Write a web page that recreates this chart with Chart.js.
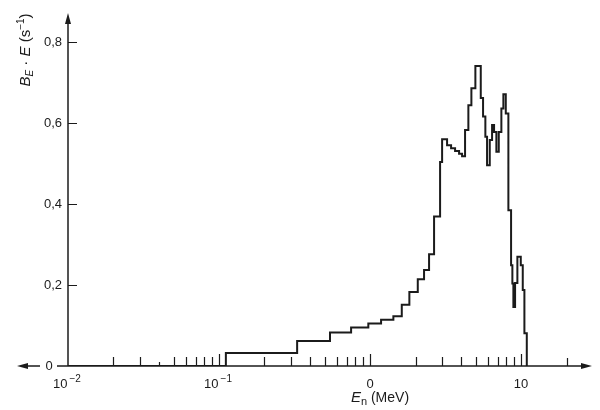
<!DOCTYPE html>
<html>
<head>
<meta charset="utf-8">
<script src="https://cdn.jsdelivr.net/npm/chart.js@4.4.1/dist/chart.umd.min.js"></script>
<style>
  html, body { margin: 0; padding: 0; background: #fff; }
  #wrap { width: 600px; height: 410px; }
</style>
</head>
<body>
<div id="wrap"><canvas id="spectrum" width="600" height="410"></canvas></div>
<script>
// left bin edges in MeV (last entry closes the final bin)
const binEdges = [
  0.01, 0.111, 0.329, 0.543, 0.749, 0.974, 1.183, 1.427, 1.622, 1.821,
  2.07, 2.278, 2.459, 2.654, 2.909, 3.0, 3.236, 3.44, 3.656, 3.886,
  4.068, 4.257, 4.477, 4.688, 4.982, 5.408, 5.601, 5.801, 5.953, 6.204,
  6.426, 6.625, 6.862, 7.117, 7.405, 7.635, 7.92, 8.24, 8.586, 8.758,
  8.893, 9.126, 9.452, 9.954, 10.26, 10.52, 10.91
];
// B_E * E per bin (s^-1)
const binValues = [
  0, 0.032, 0.062, 0.083, 0.095, 0.105, 0.114, 0.123, 0.151, 0.183,
  0.214, 0.237, 0.276, 0.369, 0.504, 0.56, 0.545, 0.538, 0.531, 0.524,
  0.518, 0.583, 0.644, 0.686, 0.741, 0.662, 0.616, 0.566, 0.496, 0.558,
  0.595, 0.578, 0.529, 0.578, 0.636, 0.671, 0.624, 0.385, 0.249, 0.204,
  0.146, 0.205, 0.27, 0.249, 0.188, 0.081
];

const xMajorTicks = [0.01, 0.1, 1, 10];
const xMajorLabels = [["10", "−2"], ["10", "−1"], ["0", ""], ["10", ""]];
const xMinorTicks = [
  0.02, 0.03, 0.04, 0.05, 0.06, 0.07, 0.08, 0.09,
  0.2, 0.3, 0.4, 0.5, 0.6, 0.7, 0.8, 0.9,
  2, 3, 4, 5, 6, 7, 8, 9, 20
];
const yTicks = [0.2, 0.4, 0.6, 0.8];
const yTickLabels = ["0,2", "0,4", "0,6", "0,8"];

const FONT = '"Liberation Sans", Arial, sans-serif';
const INK = "#1b1b1b";

const points = binEdges.map((e, i) => ({
  x: e,
  y: i < binValues.length ? binValues[i] : 0,
}));

// draw a row of text pieces (italic / sub / sup) starting at x
function richText(ctx, parts, x, y, align) {
  let total = 0;
  parts.forEach((p) => {
    ctx.font = `${p.italic ? "italic " : ""}${p.size}px ${FONT}`;
    total += ctx.measureText(p.t).width;
  });
  let cx = align === "center" ? x - total / 2 : x;
  ctx.textAlign = "left";
  ctx.textBaseline = "alphabetic";
  parts.forEach((p) => {
    ctx.font = `${p.italic ? "italic " : ""}${p.size}px ${FONT}`;
    ctx.fillText(p.t, cx, y + (p.dy || 0));
    cx += ctx.measureText(p.t).width;
  });
}

function arrow(ctx, tipX, tipY, dir) {
  ctx.beginPath();
  if (dir === "up") {
    ctx.moveTo(tipX, tipY);
    ctx.lineTo(tipX - 3, tipY + 11);
    ctx.lineTo(tipX + 3, tipY + 11);
  } else if (dir === "right") {
    ctx.moveTo(tipX, tipY);
    ctx.lineTo(tipX - 11, tipY - 3);
    ctx.lineTo(tipX - 11, tipY + 3);
  } else {
    ctx.moveTo(tipX, tipY);
    ctx.lineTo(tipX + 11, tipY - 3);
    ctx.lineTo(tipX + 11, tipY + 3);
  }
  ctx.closePath();
  ctx.fill();
}

const axesPlugin = {
  id: "paperAxes",
  afterDraw(chart) {
    const ctx = chart.ctx;
    const xs = chart.scales.x;
    const ys = chart.scales.y;
    const area = chart.chartArea;
    const y0 = ys.getPixelForValue(0);
    const x0 = xs.getPixelForValue(xs.min);

    ctx.save();
    ctx.strokeStyle = INK;
    ctx.fillStyle = INK;
    ctx.lineWidth = 1.5;

    // x axis with the "0" label sitting in a gap on the left
    ctx.beginPath();
    ctx.moveTo(22, y0);
    ctx.lineTo(40, y0);
    ctx.moveTo(57, y0);
    ctx.lineTo(area.right - 4, y0);
    ctx.stroke();
    arrow(ctx, 17, y0, "left");
    arrow(ctx, area.right + 2, y0, "right");

    // y axis
    ctx.beginPath();
    ctx.moveTo(x0, y0);
    ctx.lineTo(x0, area.top + 4);
    ctx.stroke();
    arrow(ctx, x0, area.top - 2, "up");

    // x ticks, pointing up
    ctx.lineWidth = 1.2;
    ctx.beginPath();
    xMajorTicks.slice(1).forEach((v) => {
      const px = Math.round(xs.getPixelForValue(v)) + 0.5;
      ctx.moveTo(px, y0);
      ctx.lineTo(px, y0 - 12);
    });
    xMinorTicks.forEach((v) => {
      const px = Math.round(xs.getPixelForValue(v)) + 0.5;
      const len = v === 0.04 ? 4 : v === 20 ? 8 : 9;
      ctx.moveTo(px, y0);
      ctx.lineTo(px, y0 - len);
    });
    // y ticks, pointing right
    yTicks.forEach((v) => {
      const py = Math.round(ys.getPixelForValue(v)) + 0.5;
      ctx.moveTo(x0, py);
      ctx.lineTo(x0 + 9, py);
    });
    ctx.stroke();

    // y tick labels
    ctx.font = `13px ${FONT}`;
    ctx.textAlign = "right";
    ctx.textBaseline = "middle";
    yTicks.forEach((v, i) => {
      ctx.fillText(yTickLabels[i], x0 - 6, ys.getPixelForValue(v));
    });
    ctx.textAlign = "center";
    ctx.fillText("0", 49, y0);

    // x tick labels
    xMajorTicks.forEach((v, i) => {
      const px = xs.getPixelForValue(v);
      const [base, sup] = xMajorLabels[i];
      const parts = [{ t: base, size: 13 }];
      if (sup) parts.push({ t: "\u2009" + sup, size: 10, dy: -6 });
      const shift = sup ? -1 : 0;
      richText(ctx, parts, px + shift, y0 + 22, "center");
    });

    // x title
    richText(
      ctx,
      [
        { t: "E", italic: true, size: 15 },
        { t: "n", size: 11, dy: 3 },
        { t: " (MeV)", size: 14 },
      ],
      380,
      402,
      "center"
    );

    // y title, rotated
    ctx.translate(30, 50);
    ctx.rotate(-Math.PI / 2);
    richText(
      ctx,
      [
        { t: "B", italic: true, size: 15 },
        { t: "E", italic: true, size: 10, dy: 3 },
        { t: " · ", size: 15 },
        { t: "E", italic: true, size: 15 },
        { t: " (s", size: 15 },
        { t: "−1", size: 10, dy: -6 },
        { t: ")", size: 15 },
      ],
      0,
      0,
      "center"
    );
    ctx.restore();
  },
};

new Chart(document.getElementById("spectrum"), {
  type: "line",
  data: {
    datasets: [
      {
        data: points,
        borderColor: INK,
        borderWidth: 2,
        stepped: "before",
        pointRadius: 0,
        fill: false,
      },
    ],
  },
  options: {
    responsive: false,
    animation: false,
    devicePixelRatio: 1,
    layout: { padding: { left: 68, right: 10, top: 15, bottom: 44 } },
    plugins: { legend: { display: false }, tooltip: { enabled: false } },
    scales: {
      x: { type: "logarithmic", min: 0.01, max: 28.6, display: false },
      y: { type: "linear", min: 0, max: 0.867, display: false },
    },
  },
  plugins: [axesPlugin],
});
</script>
</body>
</html>
